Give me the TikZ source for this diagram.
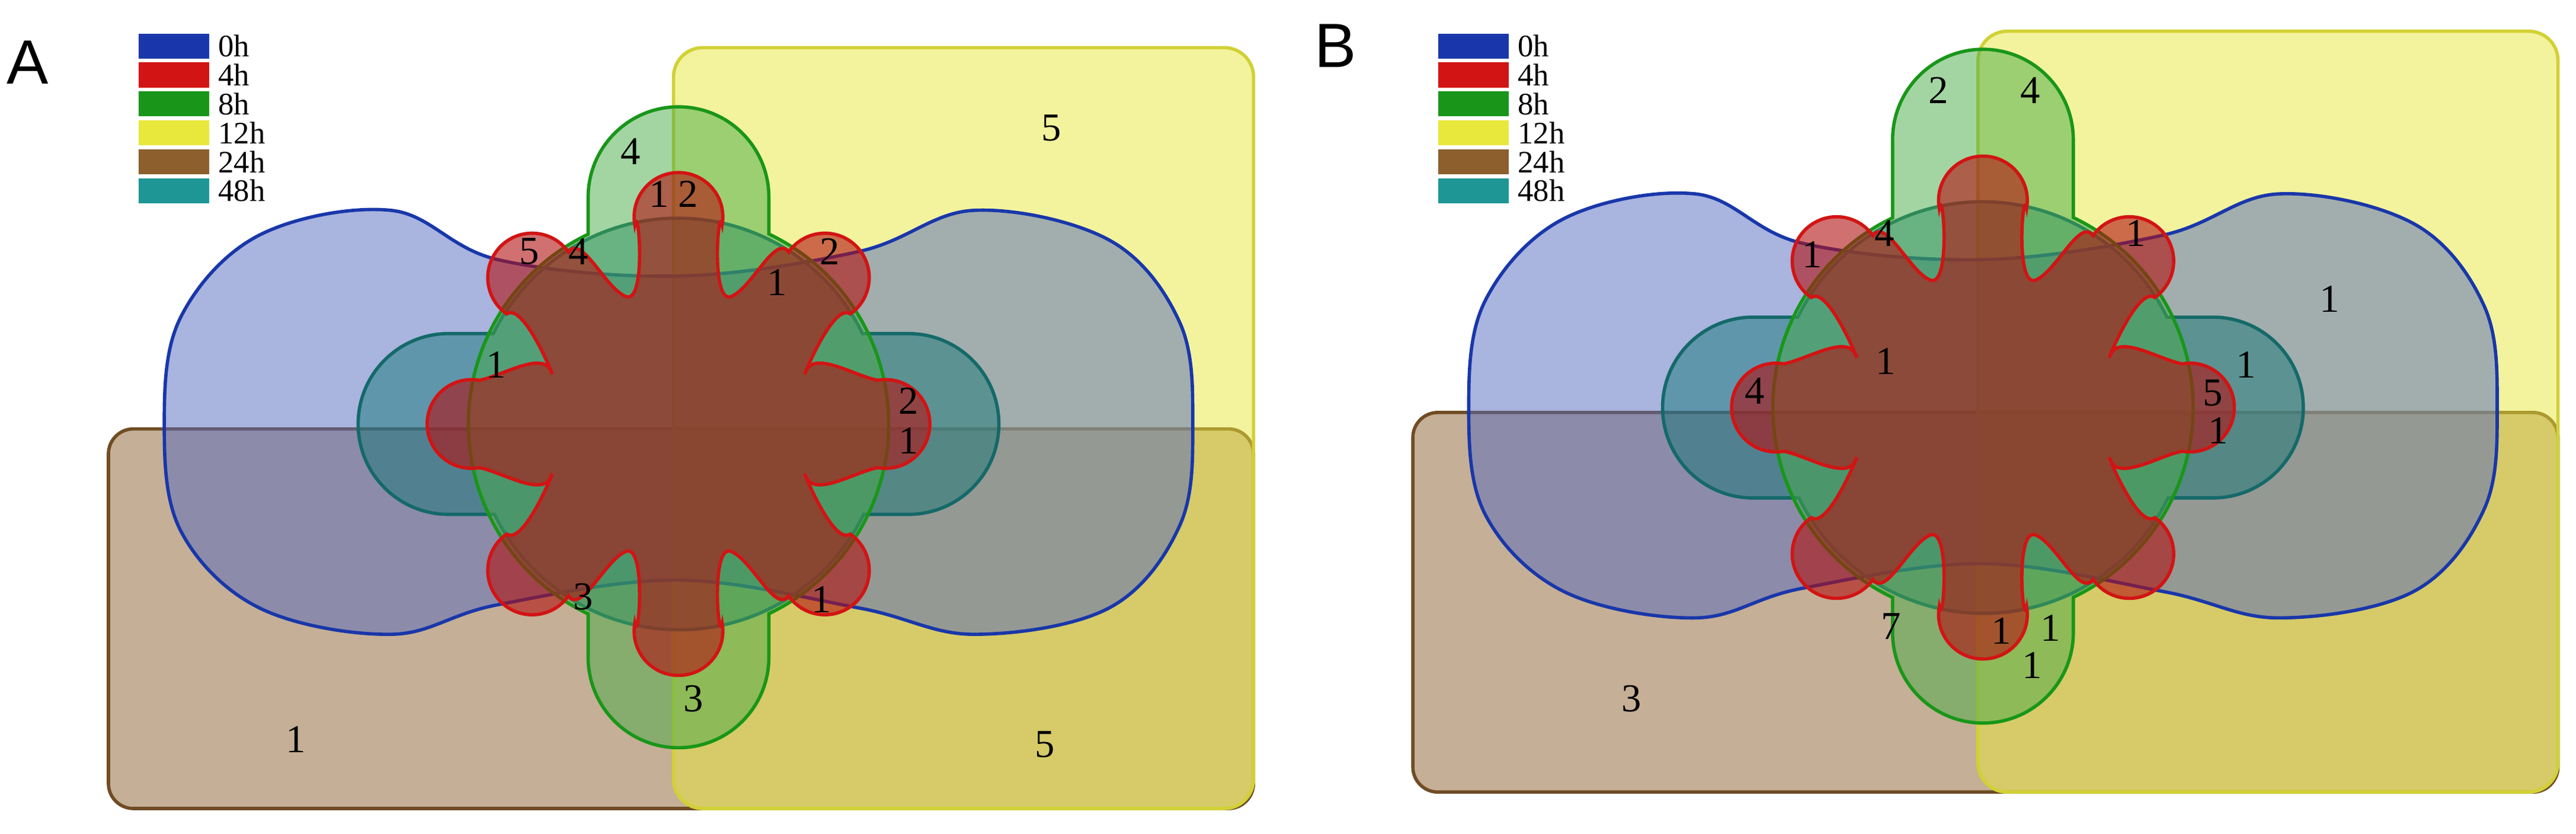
\documentclass[tikz,border=0pt]{standalone}
\usepackage{fontspec}
\setmainfont{Liberation Serif}
\newfontfamily\sansf{Liberation Sans}
\begin{document}
\definecolor{cB}{RGB}{25,55,170}
\definecolor{cR}{RGB}{210,20,20}
\definecolor{cG}{RGB}{25,150,25}
\definecolor{cY}{RGB}{232,232,60}
\definecolor{cW}{RGB}{140,95,45}
\definecolor{cT}{RGB}{30,150,150}
\begin{tikzpicture}[x=0.02772cm,y=-0.02772cm,
  sh/.style={fill opacity=0.5,line width=1.6pt},
  num/.style={font=\fontsize{19}{22}\selectfont,inner sep=0pt},
  leg/.style={font=\fontsize{15}{17}\selectfont,anchor=west,inner sep=0pt},
  lb/.style={minimum width=34,minimum height=12,inner sep=0pt,draw=none}]
\useasboundingbox (0,0) rectangle (1568,507.2);
\newcommand\panel[4]{%
\begin{scope}[shift={(#1,#2)}]
\fill[cW,sh,draw=cW!80!black,rounded corners=12] (-347,3) rectangle (350,234);
\fill[cY,sh,draw=cY!90!black,rounded corners=14] (-3,-229) rectangle (350,234);
\fill[cB!75!white,sh,draw=cB] plot[smooth cycle,tension=0.6] coordinates {(-110,-100) (-175,-130) (-255,-115) (-303,-65) (-313,0) (-303,65) (-255,112) (-175,128) (-110,110) (0,95) (110,112) (180,128) (262,112) (305,62) (313,0) (305,-62) (262,-112) (180,-130) (110,-105) (0,-90)};
\fill[cT!80!black,sh,draw=cT!70!black] (-112,-55) -- (-140,-55) arc[start angle=270,end angle=90,radius=55] -- (-112,55) arc[start angle=154,end angle=26,radius=125] -- (140,55) arc[start angle=90,end angle=-90,radius=55] -- (112,-55) arc[start angle=-26,end angle=-154,radius=125] -- cycle;
\fill[cG!80!white,sh,draw=cG] (-55,-115.6) -- (-55,#3) arc[start angle=180,end angle=360,radius=55] -- (55,-115.6) arc[start angle=-64.5,end angle=64.5,radius=128] -- (55,#4) arc[start angle=0,end angle=180,radius=55] -- (-55,115.6) arc[start angle=115.5,end angle=244.5,radius=128] -- cycle;
\fill[cR!85!black,sh,fill opacity=0.6,draw=cR] (-22.5:84)
  \foreach \p in {0,45,...,315}{
   to[out=\p+67.5,in=\p+170,looseness=0.8] ([shift={(\p-100:27)}]\p:126)
   arc[start angle=\p-100,end angle=\p+100,radius=27]
   to[out=\p+190,in=\p+292.5,looseness=0.8] (\p+22.5:84)
  } -- cycle;
\end{scope}}
\panel{413}{258}{-138}{142}
\panel{1207}{248}{-163}{137}
% legends
\foreach \xx in {84,875}{
\foreach \c/\t [count=\i from 0] in {cB/0h,cR/4h,cG/8h,cY/12h,cW/24h,cT/48h}{
 \node[lb,fill=\c,anchor=west] (L\xx\i) at (\xx,{28+17.6*\i}) {};
 \node[leg] (T\xx\i) at ([xshift=4]L\xx\i.east) {\t};
}}
\node[font=\sansf\fontsize{30}{34}\selectfont] (pa) at (17,38) {A};
\node[font=\sansf\fontsize{30}{34}\selectfont] (pb) at (813,28) {B};
% numbers A
\foreach \x/\y/\t [count=\i] in {640/78/5,384/92/4,401/118/1,419/118/2,322/153/5,352/153/4,505/153/2,473/172/1,302/222/1,553/244/2,553/268/1,355/363/3,500/365/1,422/425/3,180/450/1,636/453/5}
 \node[num] (a\i) at (\x,\y) {\t};
% numbers B
\foreach \x/\y/\t [count=\i] in {1180/55/2,1236/55/4,1147/142/4,1103/155/1,1300/142/1,1418/182/1,1148/220/1,1367/222/1,1068/238/4,1347/239/5,1350/262/1,1151/381/7,1248/382/1,1218/384/1,1237/405/1,993/425/3}
 \node[num] (b\i) at (\x,\y) {\t};
\end{tikzpicture}
\end{document}
